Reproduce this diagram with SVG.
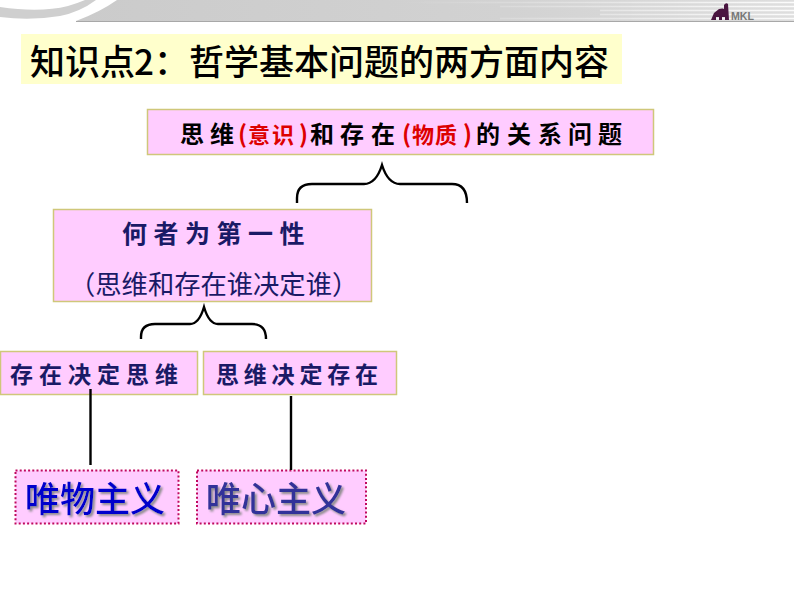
<svg xmlns="http://www.w3.org/2000/svg" width="794" height="596" viewBox="0 0 794 596">
<defs>
<linearGradient id="band" x1="0" x2="1" y1="0" y2="0"><stop offset="0" stop-color="#cbcbcb"/><stop offset="0.6" stop-color="#d2d2d2"/><stop offset="1" stop-color="#dedede"/></linearGradient>
<linearGradient id="stripe" x1="0" x2="1" y1="0" y2="0"><stop offset="0" stop-color="#fff" stop-opacity="0"/><stop offset="0.5" stop-color="#fff" stop-opacity="0.35"/><stop offset="1" stop-color="#fff" stop-opacity="0.9"/></linearGradient>
<filter id="sh" x="-10%" y="-10%" width="120%" height="130%"><feDropShadow dx="2" dy="2" stdDeviation="1" flood-color="#8a8a8a"/></filter>
</defs>
<style>
.box{fill:#ffccff;stroke:#cfc77a;stroke-width:1.500}
.dot{fill:#ffccff;stroke:#c0085f;stroke-width:2;stroke-dasharray:2 2.200}
.cjk{font-family:"Noto Sans CJK SC","DejaVu Sans",sans-serif}
.bold{font-weight:700}
.b{fill:#000}
.r{fill:#dd0000}
.n{fill:#1a1a66}
.con{fill:none;stroke:#000;stroke-width:2.400}
</style>
<rect width="794" height="596" fill="#fff"/>
<g id="header">
<path d="M0 7Q40 13 68 6Q78 3 85 0H96Q80 12 60 16Q30 21 0 17Z" fill="#cfcfcf"/>
<path d="M76 21Q100 12 117 0H794V21Z" fill="url(#band)"/>
<path d="M76 21.500H794" stroke="#a8a8a8" stroke-width="1"/>
<path d="M400 2.500H794M500 6.500H794M600 10.500H794M600 14.500H794M500 18.500H794" stroke="url(#stripe)" stroke-width="1.500" fill="none"/>
<path d="M711 20L714 13L719 9Q723 8 724 9L724 5Q726 2 728 4L729 20H725V17H722V20H719V17H716V20Z" fill="#4a1540"/>
<text x="731" y="20" font-family="Liberation Sans,sans-serif" font-size="11" font-weight="700" fill="#777" textLength="23" lengthAdjust="spacingAndGlyphs">MKL</text>
</g>
<g id="title">
<rect x="21" y="34" width="601" height="50" fill="#ffffcc"/>
<text class="cjk" y="75" font-size="35" font-weight="500" fill="#000"><tspan x="30">知识点</tspan><tspan x="134">2</tspan><tspan x="154">：</tspan><tspan x="189">哲学基本问题的两方面内容</tspan></text>
</g>
<g id="n1"><rect class="box" x="147.500" y="109.500" width="506" height="45"/>
<text class="cjk bold b" y="143" font-size="24"><tspan x="180 210">思维</tspan><tspan class="r" x="238" font-size="24">(</tspan><tspan class="r" x="248 272" font-size="22">意识</tspan><tspan class="r" x="299" font-size="24">)</tspan><tspan x="310 340 371">和存在</tspan><tspan class="r" x="402" font-size="24">(</tspan><tspan class="r" x="412 435" font-size="22">物质</tspan><tspan class="r" x="463" font-size="24">)</tspan><tspan x="476 507 538 568 598">的关系问题</tspan></text></g>
<g id="n2"><rect class="box" x="53.500" y="209.500" width="318" height="92"/>
<text class="cjk bold n" x="122" y="243" font-size="25" letter-spacing="6.500">何者为第一性</text>
<text class="cjk n" x="69" y="294" font-size="26.300">（思维和存在谁决定谁）</text></g>
<g id="n3"><rect class="box" x="0.500" y="351.500" width="197" height="43"/>
<text class="cjk bold n" x="10" y="383" font-size="23" letter-spacing="6">存在决定思维</text></g>
<g id="n4"><rect class="box" x="203.500" y="351.500" width="193" height="43"/>
<text class="cjk bold n" x="216" y="383" font-size="23" letter-spacing="4.800">思维决定存在</text></g>
<g id="n5"><rect class="dot" x="15.500" y="470.500" width="163" height="53"/>
<text class="cjk" x="25" y="512" font-size="35" font-weight="500" fill="#0000cc" filter="url(#sh)">唯物主义</text></g>
<g id="n6"><rect class="dot" x="197" y="470.500" width="169" height="53"/>
<text class="cjk" x="206" y="512" font-size="35" font-weight="500" fill="#333399" filter="url(#sh)">唯心主义</text></g>
<g id="connectors">
<path class="con" d="M297 203V198Q297 184 312 184H364Q376 184 382 165Q388 184 400 184H452Q467 184 467 203"/>
<path class="con" d="M141 339V337Q141 324 155 324H190Q199 324 204 307Q209 324 218 324H252Q266 324 266 339"/>
<path class="con" d="M90.500 389V465"/>
<path class="con" d="M291 396V470"/>
</g>
</svg>
